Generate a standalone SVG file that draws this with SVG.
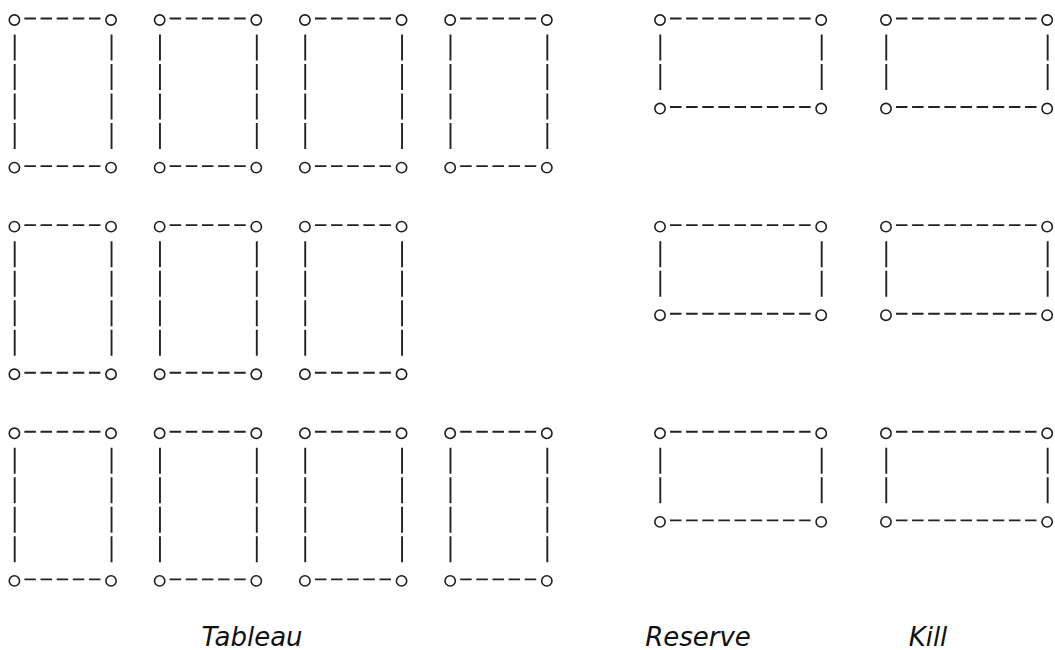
<svg xmlns="http://www.w3.org/2000/svg" xmlns:xlink="http://www.w3.org/1999/xlink" width="1055" height="650" viewBox="0 0 1055 650">
  <style>
    .ring { fill: none; stroke: #1e1e1e; stroke-width: 1.6; }
    .hdash { fill: none; stroke: #222; stroke-width: 1.9; stroke-dasharray: 11.5 4.64; }
    .vdash { fill: none; stroke: #222; stroke-width: 1.9; stroke-dasharray: 26 3.52; }
    .label { font-family: "DejaVu Sans", "Liberation Sans", sans-serif; font-style: italic; font-size: 26px; fill: #111; text-anchor: middle; }
  </style>
  <defs>
    <g id="tabBox">
      <path class="hdash" d="M10.39 -1.5 H86.45 M10.39 146.1 H86.45"/>
      <path class="vdash" d="M0.7 14.5 V129.06 M97.54 14.5 V129.06"/>
      <circle class="ring" cx="0.4" cy="0" r="5.15"/>
      <circle class="ring" cx="97.04" cy="0" r="5.15"/>
      <circle class="ring" cx="0.4" cy="147.6" r="5.15"/>
      <circle class="ring" cx="97.04" cy="147.6" r="5.15"/>
    </g>
    <g id="sideBox">
      <path class="hdash" d="M10.39 -1.5 H151.01 M10.39 87.06 H151.01"/>
      <path class="vdash" d="M0.7 14.5 V70.02 M162.1 14.5 V70.02"/>
      <circle class="ring" cx="0.4" cy="0" r="5.15"/>
      <circle class="ring" cx="161.6" cy="0" r="5.15"/>
      <circle class="ring" cx="0.4" cy="88.56" r="5.15"/>
      <circle class="ring" cx="161.6" cy="88.56" r="5.15"/>
    </g>
  </defs>

  <g id="connectors"></g>

  <g id="tableau-1-1" transform="translate(14,20)"><use xlink:href="#tabBox" href="#tabBox"/></g>
  <g id="tableau-1-2" transform="translate(159.26,20)"><use xlink:href="#tabBox" href="#tabBox"/></g>
  <g id="tableau-1-3" transform="translate(304.52,20)"><use xlink:href="#tabBox" href="#tabBox"/></g>
  <g id="tableau-1-4" transform="translate(449.78,20)"><use xlink:href="#tabBox" href="#tabBox"/></g>

  <g id="tableau-2-1" transform="translate(14,226.64)"><use xlink:href="#tabBox" href="#tabBox"/></g>
  <g id="tableau-2-2" transform="translate(159.26,226.64)"><use xlink:href="#tabBox" href="#tabBox"/></g>
  <g id="tableau-2-3" transform="translate(304.52,226.64)"><use xlink:href="#tabBox" href="#tabBox"/></g>

  <g id="tableau-3-1" transform="translate(14,433.28)"><use xlink:href="#tabBox" href="#tabBox"/></g>
  <g id="tableau-3-2" transform="translate(159.26,433.28)"><use xlink:href="#tabBox" href="#tabBox"/></g>
  <g id="tableau-3-3" transform="translate(304.52,433.28)"><use xlink:href="#tabBox" href="#tabBox"/></g>
  <g id="tableau-3-4" transform="translate(449.78,433.28)"><use xlink:href="#tabBox" href="#tabBox"/></g>

  <g id="reserve-1" transform="translate(659.6,20)"><use xlink:href="#sideBox" href="#sideBox"/></g>
  <g id="reserve-2" transform="translate(659.6,226.64)"><use xlink:href="#sideBox" href="#sideBox"/></g>
  <g id="reserve-3" transform="translate(659.6,433.28)"><use xlink:href="#sideBox" href="#sideBox"/></g>

  <g id="kill-1" transform="translate(885.56,20)"><use xlink:href="#sideBox" href="#sideBox"/></g>
  <g id="kill-2" transform="translate(885.56,226.64)"><use xlink:href="#sideBox" href="#sideBox"/></g>
  <g id="kill-3" transform="translate(885.56,433.28)"><use xlink:href="#sideBox" href="#sideBox"/></g>

  <g id="label-tableau"><text class="label" x="252" y="646">Tableau</text></g>
  <g id="label-reserve"><text class="label" x="698" y="646">Reserve</text></g>
  <g id="label-kill"><text class="label" x="928" y="646">Kill</text></g>
</svg>
